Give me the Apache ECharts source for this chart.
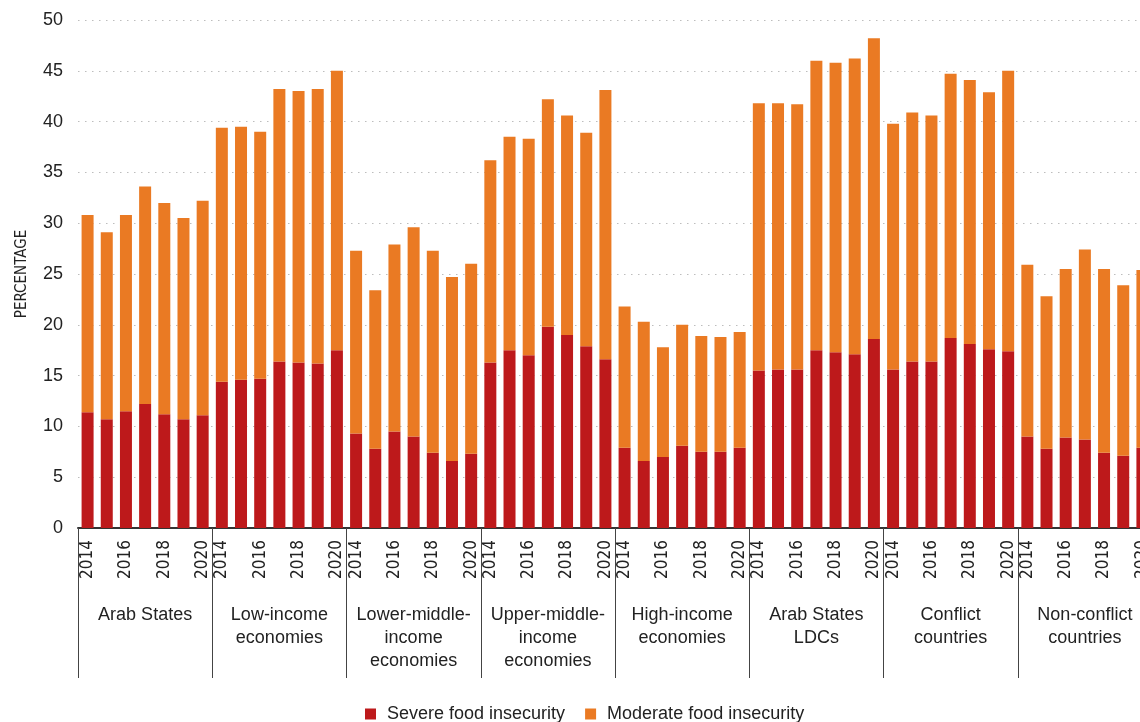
<!DOCTYPE html>
<html>
<head>
    <meta charset="utf-8">
    <title>Food insecurity</title>
    <script src="https://cdn.jsdelivr.net/npm/echarts@6/dist/echarts.min.js"></script>
    <style>
        * {
            margin: 0;
            padding: 0
        }

        html, body {
            width: 100%;
            height: 100%;
            background: #fff;
        }

        #main {
            width: 1140px;
            height: 722px;
        }
    </style>
</head>
<body>
<div id="main"></div>
<script type="text/javascript">
    /*-------------------- 数据 -----------------------------*/
    var years = ['2014', '2015', '2016', '2017', '2018', '2019', '2020'];
    var groups = ['Arab States', 'Low-income\neconomies', 'Lower-middle-\nincome\neconomies',
        'Upper-middle-\nincome\neconomies', 'High-income\neconomies', 'Arab States\nLDCs',
        'Conflict\ncountries', 'Non-conflict\ncountries'];
    var yTicks = [0, 5, 10, 15, 20, 25, 30, 35, 40, 45, 50];

    // severe food insecurity, one row per group (2014-2020)
    var severe = [
        [11.4, 10.7, 11.5, 12.2, 11.2, 10.7, 11.1],
        [14.4, 14.6, 14.7, 16.4, 16.3, 16.2, 17.5],
        [9.3, 7.8, 9.5, 9.0, 7.4, 6.6, 7.3],
        [16.3, 17.5, 17.0, 19.8, 19.0, 17.9, 16.6],
        [7.9, 6.6, 7.0, 8.1, 7.5, 7.5, 7.9],
        [15.5, 15.6, 15.6, 17.5, 17.3, 17.1, 18.6],
        [15.6, 16.4, 16.4, 18.7, 18.1, 17.6, 17.4],
        [9.0, 7.8, 8.9, 8.7, 7.4, 7.1, 7.9]
    ];
    // moderate food insecurity (stacked on top of severe)
    var moderate = [
        [19.4, 18.4, 19.3, 21.4, 20.8, 19.8, 21.1],
        [25.0, 24.9, 24.3, 26.8, 26.7, 27.0, 27.5],
        [18.0, 15.6, 18.4, 20.6, 19.9, 18.1, 18.7],
        [19.9, 21.0, 21.3, 22.4, 21.6, 21.0, 26.5],
        [13.9, 13.7, 10.8, 11.9, 11.4, 11.3, 11.4],
        [26.3, 26.2, 26.1, 28.5, 28.5, 29.1, 29.6],
        [24.2, 24.5, 24.2, 26.0, 26.0, 25.3, 27.6],
        [16.9, 15.0, 16.6, 18.7, 18.1, 16.8, 17.5]
    ];

    // 展开成一条类目轴
    var yearCats = [];
    var severeFlat = [];
    var moderateFlat = [];
    groups.forEach(function (g, gi) {
        years.forEach(function (y, yi) {
            yearCats.push(y);
            severeFlat.push(severe[gi][yi]);
            moderateFlat.push(moderate[gi][yi]);
        });
    });

    var font = '"Liberation Sans", Arial, sans-serif';
    var narrow = '"DejaVu Sans Condensed", "Liberation Sans Narrow", "Liberation Sans", sans-serif';
    var textColor = '#222';

    var chart = echarts.init(document.getElementById('main'));
    chart.setOption({
        animation: false,
        textStyle: {fontFamily: font},
        grid: {
            left: 78,
            width: 1074,   // 最后一组超出画面，被裁掉
            top: 20,
            bottom: 194,
            containLabel: false,
            outerBoundsMode: 'none'
        },
        legend: {
            left: 360,
            top: 700,
            itemWidth: 11,
            itemHeight: 11,
            itemGap: 20,
            icon: 'rect',
            textStyle: {fontSize: 18, color: textColor, fontFamily: font, padding: [0, 0, 0, 6]},
            data: ['Severe food insecurity', 'Moderate food insecurity']
        },
        xAxis: [
            {
                type: 'category',
                data: yearCats,
                axisLine: {lineStyle: {color: '#333', width: 2}},
                axisTick: {show: false},
                axisLabel: {
                    rotate: 90,
                    margin: 12,
                    fontSize: 17,
                    fontFamily: narrow,
                    color: textColor,
                    interval: function (index) {
                        return (index % 7) % 2 === 0;
                    }
                }
            },
            {
                type: 'category',
                data: groups,
                position: 'bottom',
                axisLine: {show: false},
                axisTick: {
                    show: true,
                    length: 150,
                    lineStyle: {color: '#444', width: 1}
                },
                axisLabel: {
                    margin: 76,
                    fontSize: 18,
                    lineHeight: 23,
                    color: textColor,
                    verticalAlign: 'top',
                    interval: 0
                }
            }
        ],
        yAxis: {
            type: 'value',
            min: yTicks[0],
            max: yTicks[yTicks.length - 1],
            interval: 5,
            name: 'PERCENTAGE',
            nameLocation: 'middle',
            nameGap: 48,
            nameTextStyle: {fontSize: 15, color: textColor, fontFamily: narrow},
            axisLine: {show: false},
            axisTick: {show: false},
            axisLabel: {fontSize: 18, color: textColor, margin: 15},
            splitLine: {
                lineStyle: {color: '#bdbdbd', type: [1.5, 5.5], width: 1}
            }
        },
        series: [
            {
                name: 'Severe food insecurity',
                type: 'bar',
                stack: 'total',
                barWidth: 12,
                itemStyle: {color: '#bd191b'},
                data: severeFlat
            },
            {
                name: 'Moderate food insecurity',
                type: 'bar',
                stack: 'total',
                barWidth: 12,
                itemStyle: {color: '#ea7a23'},
                data: moderateFlat
            }
        ]
    });
</script>
</body>
</html>
